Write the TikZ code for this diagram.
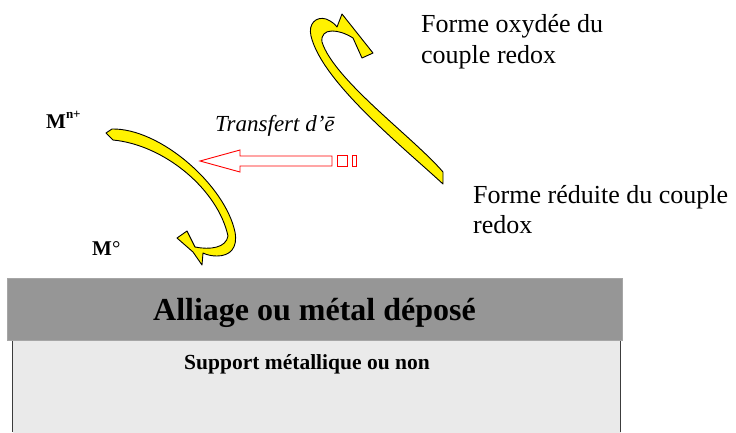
\documentclass[tikz,border=0pt]{standalone}
\usepackage{fontspec}
\setmainfont{Liberation Serif}
\usetikzlibrary{positioning}

\definecolor{bandgray}{HTML}{969696}
\definecolor{basegray}{HTML}{EAEAEA}
\definecolor{framegray}{HTML}{3C3C3C}

\begin{document}
\begin{tikzpicture}[x=1pt,y=-1pt,
    lbl/.style={inner sep=0pt,anchor=base west,font=\fontsize{26}{31}\selectfont},
    curl/.style={fill=yellow,draw=black,line width=0.9pt,line join=round},
    hollow/.style={draw=red,line width=0.9pt}]
    \useasboundingbox (0,0) rectangle (736,432);

    \fill[basegray] (12.5,340) rectangle (620.5,440);
    \draw[framegray,line width=1.3pt] (12.5,340) -- (12.5,432) (620.5,340) -- (620.5,432);
    \fill[bandgray,draw=gray!70,line width=0.6pt] (7,278) rectangle (622,340);

    \node[inner sep=0pt,anchor=base,font=\fontsize{32}{38}\selectfont\bfseries] (alloy) at (314.5,320) {Alliage ou métal déposé};
    \node[inner sep=0pt,anchor=base,font=\fontsize{21.5}{26}\selectfont\bfseries] (support) at (307,369) {Support métallique ou non};

    \node[lbl] (ox1) at (421,32) {Forme oxydée du};
    \node[lbl] (ox2) at (421,63) {couple redox};
    \node[lbl] (red1) at (473,203) {Forme réduite du couple};
    \node[lbl] (red2) at (473,233) {redox};

    \node[lbl,font=\fontsize{21}{25}\selectfont\bfseries] (ion) at (46,128) {M\raisebox{0.45em}{\fontsize{13}{15}\selectfont n+}};
    \node[lbl,font=\fontsize{21}{25}\selectfont] (metal) at (92,255) {\textbf{M}°};
    \node[lbl,font=\fontsize{23}{28}\selectfont\itshape] (transfer) at (215,131) {Transfert d’ē};

    \filldraw[curl] (443,184) .. controls (403,147) and (322,82) .. (311,36)
        .. controls (308,24) and (316,16) .. (326,19) .. controls (331,21) and (335,24) .. (337,27)
        -- (342,14) -- (373,53) -- (362,58) -- (353,38)
        .. controls (345,33) and (338,31) .. (332,31) .. controls (325,31) and (321,35) .. (322,42)
        .. controls (334,80) and (414,138) .. (443,172) -- cycle;

    \filldraw[curl] (106,133) -- (112,129) .. controls (160,128) and (225,185) .. (235,232)
        .. controls (238,248) and (230,256) .. (217,256) .. controls (212,256) and (207,255) .. (203,253)
        -- (202,265) -- (193,252) -- (177,238) -- (187,231) -- (195,247)
        .. controls (210,250) and (226,248) .. (228,236) .. controls (218,190) and (165,145) .. (113,140) -- cycle;

    \draw[hollow,line join=miter] (200,161) -- (240,150) -- (240,156) -- (332,156) -- (332,166) -- (240,166) -- (240,172) -- cycle;
    \draw[hollow] (337,155) rectangle (347,166);
    \draw[hollow] (352,155) rectangle (356,166);
\end{tikzpicture}
\end{document}
